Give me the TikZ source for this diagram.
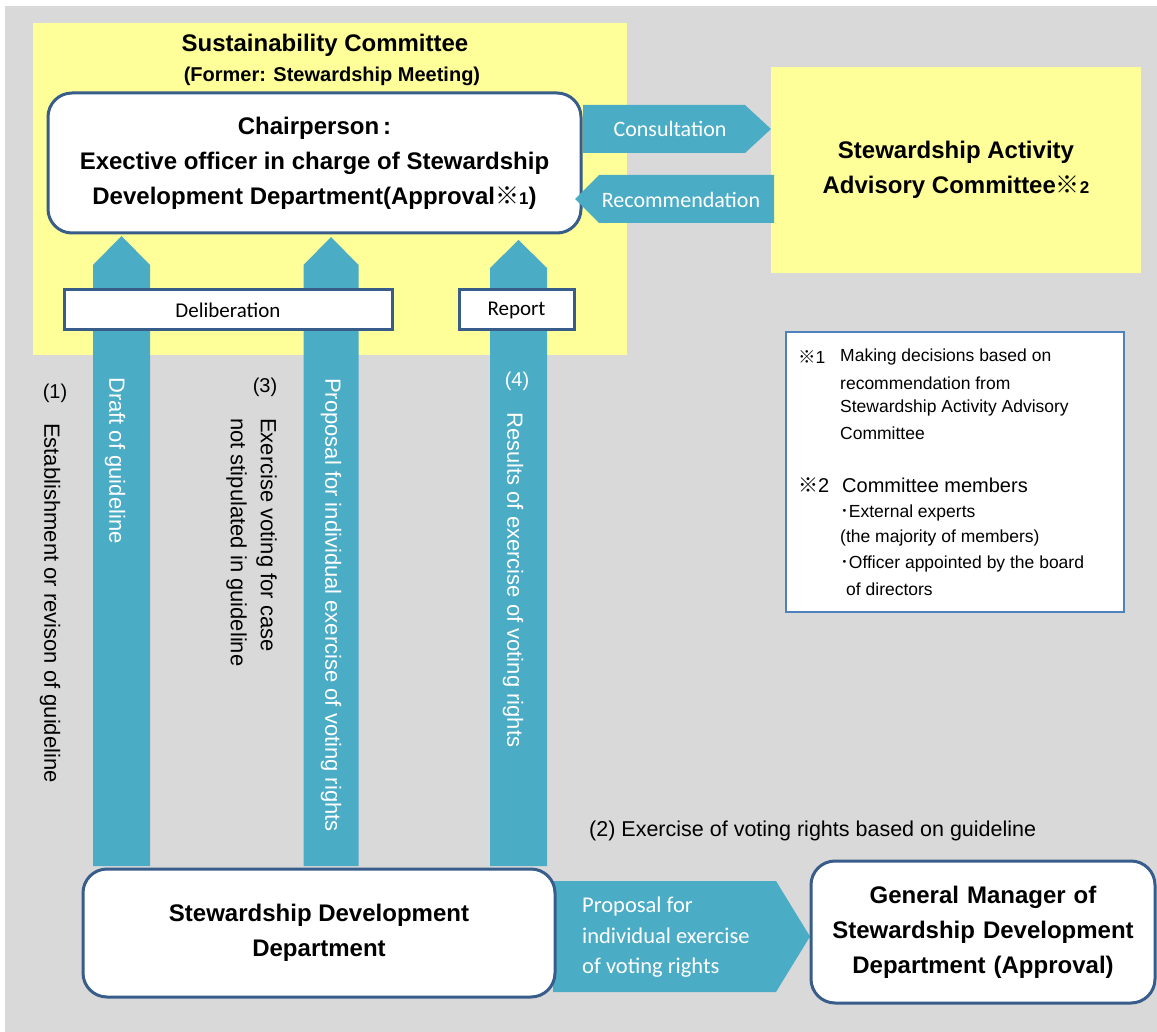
\documentclass[tikz,border=0pt]{standalone}
\usepackage{fontspec}
\setmainfont{Liberation Sans}
\newfontfamily\calfont{Carlito}
\newfontfamily\cjkfont{Noto Sans CJK JP}
\usetikzlibrary{calc}
\definecolor{bg}{HTML}{D9D9D9}
\definecolor{yel}{HTML}{FFFF99}
\definecolor{tealb}{HTML}{4BACC6}
\definecolor{bblue}{HTML}{385D8A}
\definecolor{nblue}{HTML}{4F81BD}
\begin{document}
\begin{tikzpicture}[x=1pt,y=-1pt,
  head/.style={font=\fontsize{24}{35}\selectfont\bfseries, align=center, text=black},
  rbox/.style={draw=bblue, line width=3pt, fill=white, rounded corners=24pt, inner sep=0pt},
  sbox/.style={draw=bblue, line width=3pt, fill=white, inner sep=0pt},
  ybox/.style={fill=yel, inner sep=0pt},
  blk/.style={fill=tealb},
  lbl/.style={font=\calfont\fontsize{22.5}{30.5}\selectfont, text=white, inner sep=0pt},
  vlab/.style={font=\fontsize{22}{30}\selectfont, rotate=-90, inner sep=0pt, anchor=west},
  num/.style={font=\fontsize{20}{24}\selectfont, inner sep=0pt},
  note/.style={font=\fontsize{17.5}{20}\selectfont, anchor=west, inner sep=0pt},
]
\useasboundingbox (0,0) rectangle (1157,1032);
\fill[white] (0,0) rectangle (1157,1032);
\fill[bg] (5,6) rectangle (1157,1032);

% containers
\node[ybox, minimum width=594pt, minimum height=332pt] (sc) at (330,189) {};
\node[head] (title) at (325,45) {Sustainability Committee};
\node[head, font=\fontsize{20}{24}\selectfont\bfseries] (former) at (332,76) {(Former: Stewardship Meeting)};

\node[ybox, head, minimum width=370pt, minimum height=206pt] (adv) at (956,170)
  {Stewardship Activity\\Advisory Committee{\cjkfont\bfseries ※}{\fontsize{17}{17}\selectfont 2}};

% up arrows (Stewardship Development Dept -> Chairperson)
\coordinate (u1b) at (121.5,866); \coordinate (u1t) at (121.5,236);
\coordinate (u2b) at (331,866);   \coordinate (u2t) at (331,237);
\coordinate (u3b) at (518.5,866); \coordinate (u3t) at (518.5,240);
\fill[blk] ($(u1b)+(-28.5,0)$) -- ($(u1t)+(-28.5,29)$) -- (u1t) -- ($(u1t)+(28.5,29)$) -- ($(u1b)+(28.5,0)$) -- cycle;
\fill[blk] ($(u2b)+(-27.5,0)$) -- ($(u2t)+(-27.5,28)$) -- (u2t) -- ($(u2t)+(27.5,28)$) -- ($(u2b)+(27.5,0)$) -- cycle;
\fill[blk] ($(u3b)+(-28.5,0)$) -- ($(u3t)+(-28.5,28)$) -- (u3t) -- ($(u3t)+(28.5,28)$) -- ($(u3b)+(28.5,0)$) -- cycle;

% chairperson
\node[rbox, head, minimum width=533pt, minimum height=140pt] (chair) at (314.5,163)
  {Chairperson\,:\\Exective officer in charge of Stewardship\\Development Department(Approval{\cjkfont\bfseries ※}{\fontsize{17}{17}\selectfont 1})};

% consultation / recommendation
\coordinate (cs) at (583,129); \coordinate (ct) at (771,129);
\fill[blk] ($(cs)+(0,-24)$) -- ($(ct)+(-26,-24)$) -- (ct) -- ($(ct)+(-26,24)$) -- ($(cs)+(0,24)$) -- cycle;
\coordinate (rs) at (774,199); \coordinate (rt) at (575,199);
\fill[blk] ($(rs)+(0,-24)$) -- ($(rt)+(24,-24)$) -- (rt) -- ($(rt)+(24,24)$) -- ($(rs)+(0,24)$) -- cycle;
\node[lbl, font=\calfont\fontsize{22}{26}\selectfont] (consl) at (670,129) {Consultation};
\node[lbl, font=\calfont\fontsize{22}{26}\selectfont] (recl) at (681,200) {Recommendation};

% deliberation / report
\node[sbox, minimum width=328pt, minimum height=40pt, font=\calfont\fontsize{21}{24}\selectfont] (delib) at (228,310) {Deliberation};
\node[sbox, minimum width=115pt, minimum height=40pt, font=\calfont\fontsize{21}{24}\selectfont] (report) at (516.5,310) {Report};

% vertical labels
\node[num] (n1) at (55,393) {(1)};
\node[vlab] (l1) at (50,423) {Establishment or revison of guideline};
\node[vlab, text=white] (l2) at (115,377) {Draft of guideline};
\node[num] (n3) at (265,387) {(3)};
\node[font=\fontsize{22}{30}\selectfont, rotate=-90, inner sep=0pt, anchor=north west, align=left] (l3) at (277,418)
  {Exercise voting for case\\not stipulated in guideline};
\node[vlab, text=white] (l4) at (331,378) {Proposal for individual exercise of voting rights};
\node[num, text=white] (n4) at (517,381) {(4)};
\node[vlab, text=white] (l5) at (513,412) {Results of exercise of voting rights};

% notes
\node[draw=nblue, line width=1.2pt, fill=white, minimum width=338pt, minimum height=280pt, inner sep=0pt] (notes) at (955,472) {};
\node[note] (m1) at (798,357) {{\cjkfont ※}1};
\node[note] at (840,357) {Making decisions based on};
\node[note] at (840,383) {recommendation from};
\node[note] at (840,408) {Stewardship Activity Advisory};
\node[note] at (840,433) {Committee};
\node[note, font=\fontsize{20}{24}\selectfont] (m2) at (798,485) {{\cjkfont ※}2};
\node[note, font=\fontsize{20}{24}\selectfont] at (842,485) {Committee members};
\node[note] at (840,513) {{\cjkfont ･}External experts};
\node[note] at (840,538) {(the majority of members)};
\node[note] at (840,564) {{\cjkfont ･}Officer appointed by the board};
\node[note] at (846,589) {of directors};

% (2)
\node[font=\fontsize{21.5}{24}\selectfont, anchor=west, inner sep=0pt] (l6) at (589,831) {(2) Exercise of voting rights based on guideline};

% bottom
\coordinate (ps) at (553,936.5); \coordinate (pt) at (810,936.5);
\fill[blk] ($(ps)+(0,-55.5)$) -- ($(pt)+(-34,-55.5)$) -- (pt) -- ($(pt)+(-34,55.5)$) -- ($(ps)+(0,55.5)$) -- cycle;
\node[rbox, head, minimum width=472pt, minimum height=128pt] (sdd) at (319,933) {Stewardship Development\\Department};
\node[rbox, head, minimum width=344pt, minimum height=142pt, text width=340pt] (gm) at (983,932)
  {General Manager of\\Stewardship Development\\Department (Approval)};
\node[lbl, align=left, anchor=west] (pl) at (582,937.5) {Proposal for\\individual exercise\\of voting rights};
\end{tikzpicture}
\end{document}
